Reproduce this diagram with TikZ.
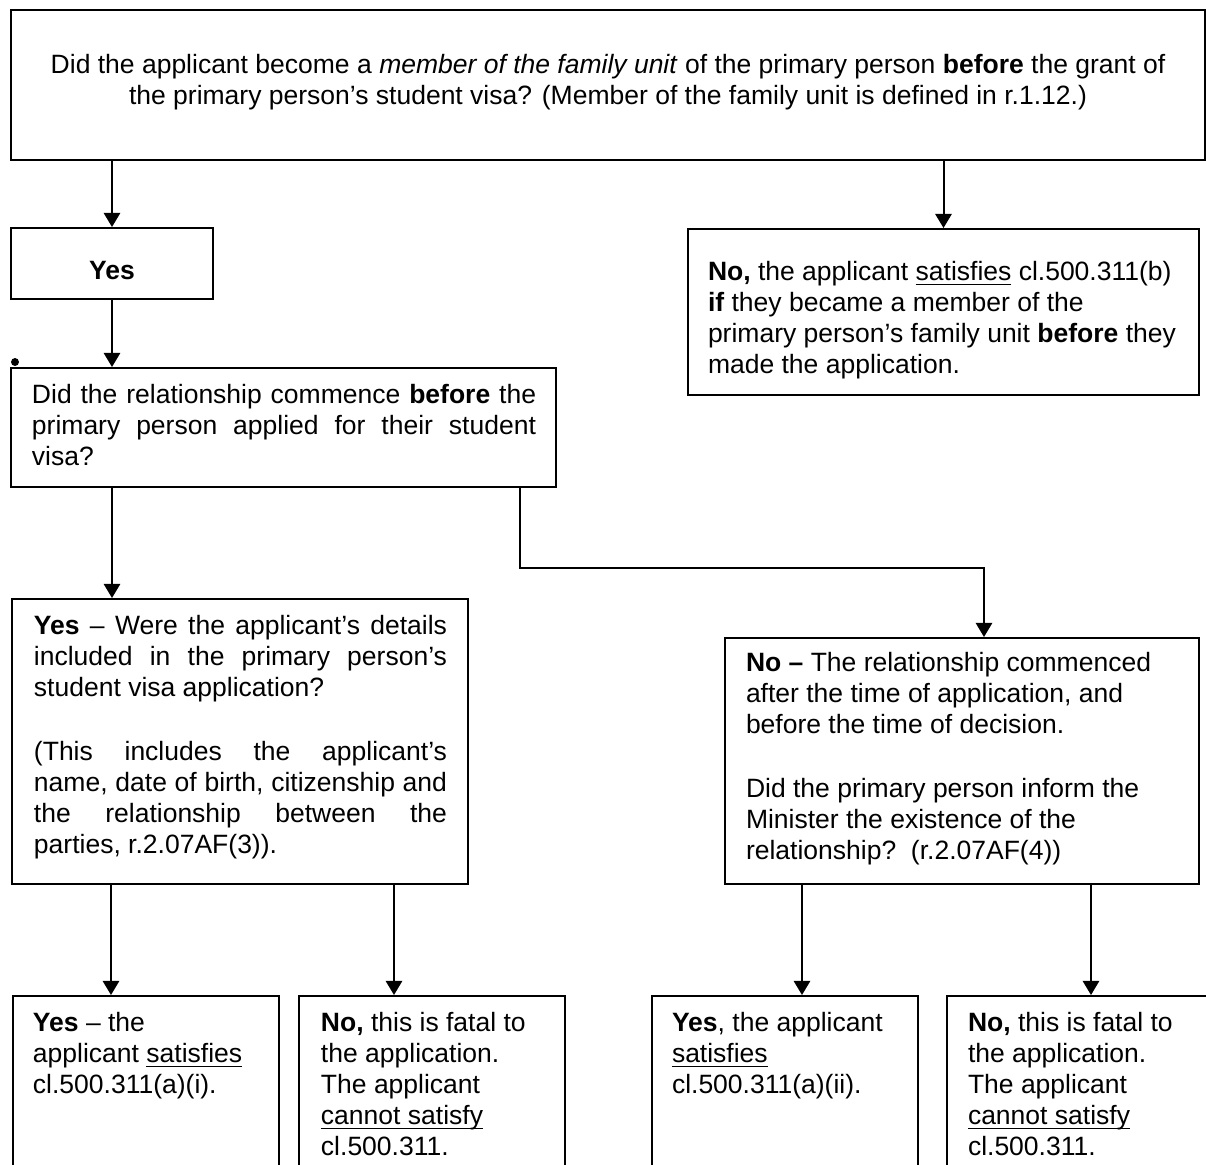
\documentclass[tikz,border=0pt]{standalone}
\usepackage{fontspec}
\setmainfont{Liberation Sans}
\usepackage{tikz}
\usetikzlibrary{arrows.meta}
\newdimen\pxu
\pxu=0.4528pt
\newcommand{\boxfont}{\fontsize{12pt}{14.04pt}\selectfont}
\newcommand{\boxtext}[6]{\parbox[c][#2\pxu][t]{#1\pxu}{\vspace*{\dimexpr #4\pxu-\ht\strutbox\relax}\hspace*{#3\pxu}\parbox[t]{#5\pxu}{#6}}}
\newcommand{\gap}{\par\vspace{33\pxu}}
\newcommand{\uln}[1]{\leavevmode\setbox0\hbox{#1}\rlap{\rule[-2.4pt]{\wd0}{0.6pt}}\box0\relax}
\tikzset{->/.style = {-{Triangle[length=6.4pt, width=7.4pt]}}}
\tikzset{box/.style = {draw, line width=0.9pt, inner sep=0pt, anchor=north west, font=\boxfont}}
\tikzset{circ/.style = {fill, circle, inner sep = 0, minimum size = 3.6pt}}

\begin{document}
\begin{tikzpicture}[x=0.4528pt, y=-0.4528pt, line width=0.9pt]
    \useasboundingbox (0, 0) rectangle (1206, 1164);
    \clip (0, 0) rectangle (1206, 1164);
    \node [box] (q1) at (10, 9) {\boxtext{1194}{150}{21}{63}{1152}{\centering\strut
      Did the applicant become a \textit{member of the family unit} of the primary person \textbf{before} the grant of\\
      the primary person's student visa? (Member of the family unit is defined in r.1.12.)}};
    \node [box] (yes1) at (10, 227) {\boxtext{202}{71}{21}{51}{160}{\centering\strut\textbf{Yes}}};
    \node [box] (no1) at (687, 228) {\boxtext{511}{166}{20}{51}{487}{\raggedright\strut
      \textbf{No,} the applicant \uln{satisfies} cl.500.311(b)\\
      \textbf{if} they became a member of the\\
      primary person's family unit \textbf{before} they\\
      made the application.}};
    \node [circ] (dot) at (15, 362) {};
    \node [box] (q2) at (10, 367) {\boxtext{545}{119}{21}{35}{504}{\strut
      Did the relationship commence \textbf{before} the\linebreak
      primary person applied for their student\linebreak
      visa?}};
    \node [box] (yes2) at (11, 598) {\boxtext{456}{285}{22}{35}{413}{\strut
      \textbf{Yes} -- Were the applicant's details\linebreak
      included in the primary person's\linebreak
      student visa application?\gap
      (This includes the applicant's\linebreak
      name, date of birth, citizenship and\linebreak
      the relationship between the\linebreak
      parties, r.2.07AF(3)).}};
    \node [box] (no2) at (724, 637) {\boxtext{474}{246}{21}{33}{448}{\raggedright\strut
      \textbf{No --} The relationship commenced\\
      after the time of application, and\\
      before the time of decision.\gap
      Did the primary person inform the\\
      Minister the existence of the\\
      relationship?\ \ (r.2.07AF(4))}};
    \node [box] (b1) at (12, 995) {\boxtext{266}{205}{20}{35}{242}{\raggedright\strut
      \textbf{Yes} -- the\\
      applicant \uln{satisfies}\\
      cl.500.311(a)(i).}};
    \node [box] (b2) at (298, 995) {\boxtext{266}{205}{22}{35}{240}{\raggedright\strut
      \textbf{No,} this is fatal to\\
      the application.\\
      The applicant\\
      \uln{cannot satisfy}\\
      cl.500.311.}};
    \node [box] (b3) at (651, 995) {\boxtext{266}{205}{20}{35}{242}{\raggedright\strut
      \textbf{Yes}, the applicant\\
      \uln{satisfies}\\
      cl.500.311(a)(ii).}};
    \node [box] (b4) at (946, 995) {\boxtext{270}{205}{21}{35}{245}{\raggedright\strut
      \textbf{No,} this is fatal to\\
      the application.\\
      The applicant\\
      \uln{cannot satisfy}\\
      cl.500.311.}};
    \coordinate (elbow) at (984, 568);
    \coordinate (s1) at ([xshift=100\pxu]yes2.south west);
    \coordinate (s2) at ([xshift=383\pxu]yes2.south west);
    \coordinate (s3) at ([xshift=78\pxu]no2.south west);
    \coordinate (s4) at ([xshift=367\pxu]no2.south west);
    \draw [->] (q1.south -| yes1.north) -- (yes1.north);
    \draw [->] (q1.south -| no1.north) -- (no1.north);
    \draw [->] (yes1.south) -- (yes1.south |- q2.north);
    \draw [->] (q2.south -| yes1.south) -- (yes1.south |- yes2.north);
    \draw [->] ([xshift=-37\pxu]q2.south east) |- (elbow) -- (elbow |- no2.north);
    \draw [->] (s1) -- (s1 |- b1.north);
    \draw [->] (s2) -- (s2 |- b2.north);
    \draw [->] (s3) -- (s3 |- b3.north);
    \draw [->] (s4) -- (s4 |- b4.north);
\end{tikzpicture}
\end{document}
